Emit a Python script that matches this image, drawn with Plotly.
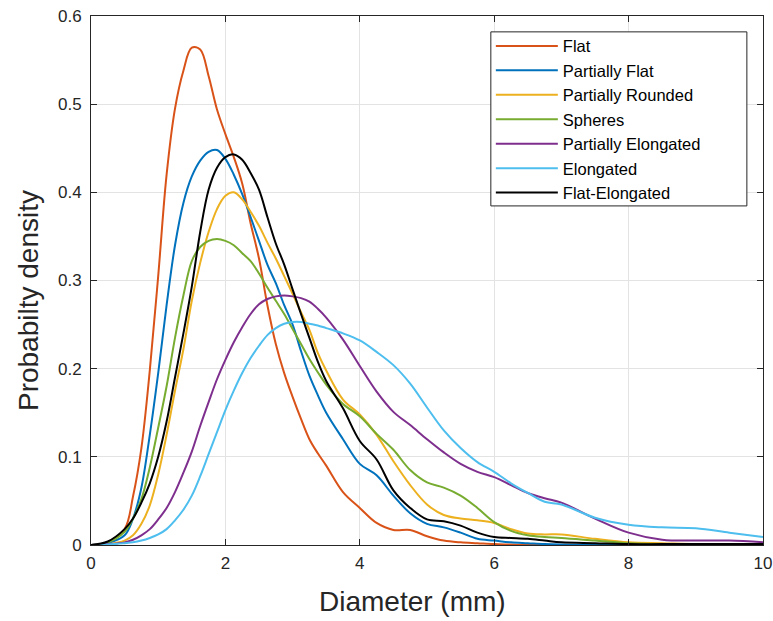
import plotly.graph_objects as go

# Shared diameter grid (mm)
diameter = [0, 0.25, 0.5, 0.625, 0.75, 0.875, 1.0, 1.125, 1.25, 1.375, 1.5, 1.625, 1.75, 1.875,
            2.0, 2.125, 2.25, 2.375, 2.5, 2.625, 2.75, 2.875, 3.0, 3.125, 3.25, 3.375, 3.5,
            3.75, 4.0, 4.25, 4.5, 4.75, 5.0, 5.25, 5.5, 5.75, 6.0, 6.25, 6.5, 6.75,
            7.0, 7.5, 8.0, 8.5, 9.0, 9.5, 10.0]

flat = [0, 0.003, 0.018, 0.055, 0.11, 0.198, 0.305, 0.42, 0.495, 0.538, 0.564, 0.562, 0.532, 0.494,
        0.466, 0.44, 0.41, 0.365, 0.325, 0.272, 0.228, 0.195, 0.168, 0.143, 0.12, 0.104, 0.09,
        0.06, 0.042, 0.025, 0.017, 0.017, 0.01, 0.005, 0.003, 0.002, 0.001, 0.0005, 0, 0,
        0, 0, 0, 0, 0, 0, 0]

partially_flat = [0, 0.002, 0.011, 0.03, 0.065, 0.125, 0.195, 0.272, 0.34, 0.388, 0.418, 0.436, 0.446, 0.448,
                  0.438, 0.42, 0.398, 0.372, 0.345, 0.318, 0.297, 0.272, 0.25, 0.22, 0.192, 0.17, 0.15,
                  0.12, 0.092, 0.079, 0.056, 0.036, 0.024, 0.02, 0.014, 0.007, 0.005, 0.003, 0.002, 0.001,
                  0.0005, 0, 0, 0, 0, 0, 0]

partially_rounded = [0, 0.001, 0.005, 0.011, 0.024, 0.045, 0.08, 0.125, 0.175, 0.222, 0.277, 0.32, 0.355, 0.381,
                     0.396, 0.4, 0.392, 0.378, 0.362, 0.343, 0.325, 0.305, 0.285, 0.264, 0.244, 0.218, 0.198,
                     0.165, 0.148, 0.125, 0.095, 0.068, 0.046, 0.034, 0.03, 0.028, 0.025, 0.018, 0.013, 0.012,
                     0.012, 0.007, 0.003, 0.002, 0.001, 0.001, 0.001]

spheres = [0, 0.003, 0.015, 0.03, 0.052, 0.088, 0.133, 0.18, 0.235, 0.283, 0.322, 0.338, 0.345, 0.347,
           0.345, 0.34, 0.331, 0.322, 0.308, 0.292, 0.277, 0.262, 0.245, 0.228, 0.211, 0.196, 0.182,
           0.16, 0.146, 0.126, 0.108, 0.085, 0.071, 0.065, 0.056, 0.042, 0.026, 0.016, 0.011, 0.009,
           0.008, 0.005, 0.002, 0.001, 0.001, 0, 0]

partially_elongated = [0, 0.001, 0.003, 0.006, 0.011, 0.018, 0.029, 0.042, 0.06, 0.082, 0.106, 0.135, 0.162, 0.188,
                       0.21, 0.23, 0.247, 0.262, 0.273, 0.279, 0.282, 0.283, 0.282, 0.28, 0.276, 0.268, 0.258,
                       0.233, 0.203, 0.174, 0.151, 0.136, 0.12, 0.105, 0.092, 0.083, 0.077, 0.068, 0.059, 0.053,
                       0.048, 0.03, 0.014, 0.006, 0.005, 0.005, 0.003]

elongated = [0, 0.0005, 0.002, 0.003, 0.005, 0.008, 0.012, 0.018, 0.028, 0.04, 0.056, 0.078, 0.103, 0.128,
             0.153, 0.175, 0.195, 0.212, 0.226, 0.238, 0.246, 0.251, 0.253, 0.253, 0.251, 0.249, 0.246,
             0.24, 0.232, 0.219, 0.204, 0.183, 0.156, 0.13, 0.11, 0.094, 0.083, 0.07, 0.059, 0.049,
             0.046, 0.031, 0.023, 0.02, 0.019, 0.014, 0.009]

flat_elongated = [0, 0.004, 0.018, 0.03, 0.048, 0.07, 0.10, 0.14, 0.19, 0.24, 0.293, 0.355, 0.403, 0.428,
                  0.44, 0.443, 0.437, 0.422, 0.403, 0.372, 0.342, 0.318, 0.29, 0.262, 0.235, 0.208, 0.186,
                  0.155, 0.118, 0.097, 0.062, 0.042, 0.029, 0.027, 0.022, 0.014, 0.009, 0.008, 0.007, 0.005,
                  0.003, 0.002, 0.001, 0.001, 0.001, 0.001, 0.001]

series_names = ["Flat", "Partially Flat", "Partially Rounded", "Spheres",
                "Partially Elongated", "Elongated", "Flat-Elongated"]
series_values = [flat, partially_flat, partially_rounded, spheres,
                 partially_elongated, elongated, flat_elongated]
colors = ["#D95319", "#0072BD", "#EDB120", "#77AC30", "#7E2F8E", "#4DBEEE", "#000000"]

x_ticks = [0, 2, 4, 6, 8, 10]
y_ticks = [0, 0.1, 0.2, 0.3, 0.4, 0.5, 0.6]
y_tick_labels = ["0", "0.1", "0.2", "0.3", "0.4", "0.5", "0.6"]
x_title = "Diameter (mm)"
y_title = "Probabilty density"

FONT = "Liberation Sans, Arial, Helvetica, sans-serif"
AX = "#262626"

fig = go.Figure()
for name, vals, col in zip(series_names, series_values, colors):
    fig.add_trace(go.Scatter(x=diameter, y=vals, mode="lines", name=name,
                             line=dict(color=col, width=2, shape="spline", smoothing=1.0)))

axis_common = dict(showline=True, linecolor=AX, linewidth=1, mirror="ticks",
                   ticks="inside", ticklen=6, tickcolor=AX, showgrid=True,
                   gridcolor="#e3e3e3", gridwidth=1, zeroline=False, automargin=False,
                   ticklabeloverflow="allow",
                   tickfont=dict(family=FONT, size=17, color=AX))

fig.update_xaxes(range=[0, 10], tickvals=x_ticks, ticktext=[str(v) for v in x_ticks],
                 ticklabelstandoff=3, **axis_common)
fig.update_yaxes(range=[0, 0.6], tickvals=y_ticks, ticktext=y_tick_labels,
                 ticklabelstandoff=5, **axis_common)

# axis titles placed where the reference shows them
fig.add_annotation(text=x_title, xref="paper", yref="paper", x=0.4777, y=-0.1059,
                   xanchor="center", yanchor="middle", showarrow=False,
                   font=dict(family=FONT, size=28, color=AX))
fig.add_annotation(text=y_title, xref="paper", yref="paper", x=-0.0938, y=0.463,
                   xanchor="center", yanchor="middle", showarrow=False, textangle=-90,
                   font=dict(family=FONT, size=28, color=AX))

# legend frame (MATLAB-style box) drawn behind the native legend
fig.add_shape(type="rect", xref="paper", yref="paper", x0=0.595, x1=0.976, y0=0.641, y1=0.970,
              line=dict(color=AX, width=1), fillcolor="white", layer="above")

fig.update_layout(
    width=773, height=621,
    margin=dict(l=91, r=10, t=16, b=76),
    paper_bgcolor="white", plot_bgcolor="white",
    font=dict(family=FONT, color=AX),
    legend=dict(x=0.595, y=0.976, xanchor="left", yanchor="top",
                bgcolor="rgba(0,0,0,0)", borderwidth=0,
                font=dict(family=FONT, size=16.5, color="#000000"),
                itemwidth=62, tracegroupgap=0),
    showlegend=True,
)

fig.write_html("out.html", config={"displayModeBar": False},
               post_script="document.body.style.margin='0';")
